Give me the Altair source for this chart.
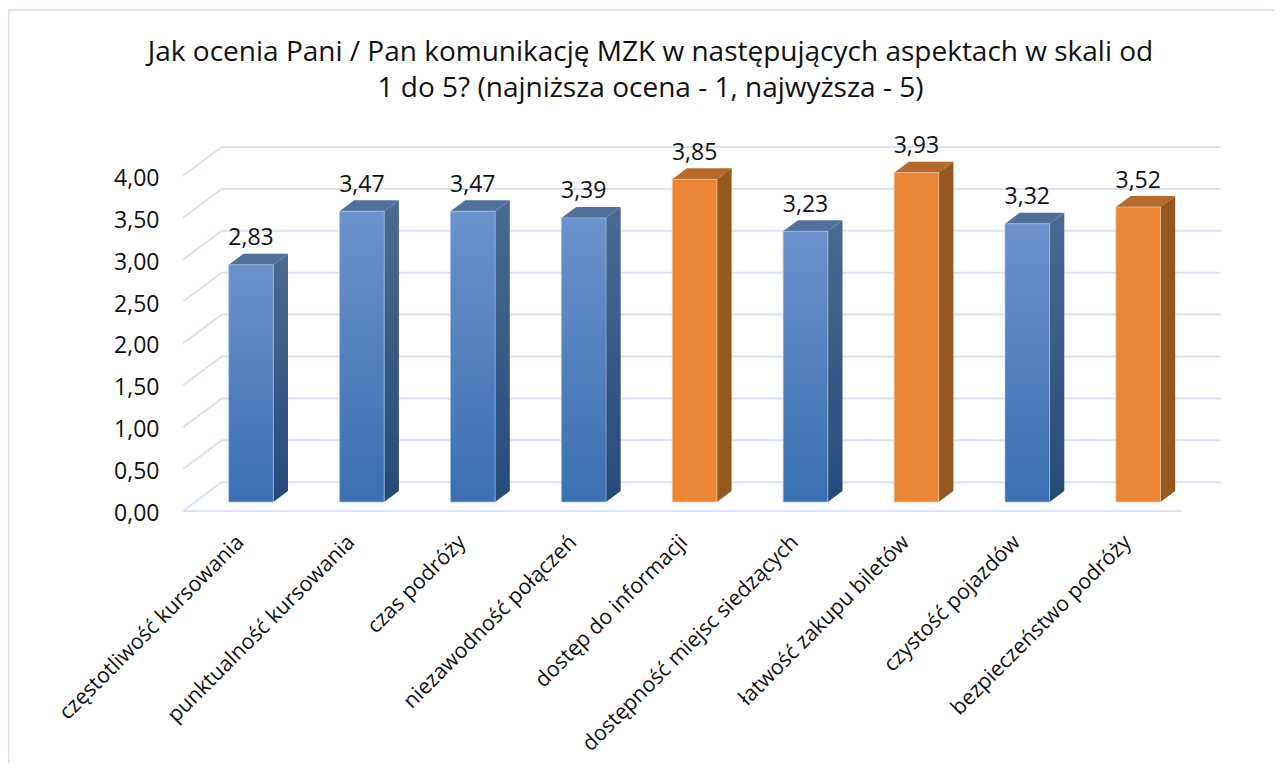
import json
import altair as alt
import pandas as pd

categories = ["częstotliwość kursowania", "punktualność kursowania", "czas podróży",
              "niezawodność połączeń", "dostęp do informacji", "dostępność miejsc siedzących",
              "łatwość zakupu biletów", "czystość pojazdów", "bezpieczeństwo podróży"]
values = [2.83, 3.47, 3.47, 3.39, 3.85, 3.23, 3.93, 3.32, 3.52]
highlight = [False, False, False, False, True, False, True, False, True]
y_ticks = [0, 0.5, 1, 1.5, 2, 2.5, 3, 3.5, 4]

PX_X = 110.9          # pixels per category
PX_Y = 83.8           # pixels per unit
W, H = 999, 335.2
PL, PT = 175, 167.8
bar_half = 22.3 / PX_X
bar_base = 9 / PX_Y            # bar plane is set back from the front of the floor
bar_dx, bar_dy = 14.7 / PX_X, 11 / PX_Y
wall_dx, wall_dy = 38.7 / PX_X, 28.8 / PX_Y
x_dom = [-68 / PX_X, -68 / PX_X + W / PX_X]

front, side, top, labels = [], [], [], []
for i, (c, v, h) in enumerate(zip(categories, values, highlight)):
    l, r = i - bar_half, i + bar_half
    b, t = bar_base, bar_base + v
    front.append(dict(i=i, h=h, x=l, x2=r, y=b, y2=t))
    side += [dict(i=i, h=h, x=r, y=b, y2=t), dict(i=i, h=h, x=r + bar_dx, y=b + bar_dy, y2=t + bar_dy)]
    top += [dict(i=i, h=h, x=l, y=t, y2=t), dict(i=i, h=h, x=l + bar_dx, y=t, y2=t + bar_dy),
            dict(i=i, h=h, x=r, y=t, y2=t + bar_dy), dict(i=i, h=h, x=r + bar_dx, y=t + bar_dy, y2=t + bar_dy)]
    labels.append(dict(x=i, y=t + bar_dy, t=f"{v:.2f}".replace(".", ",")))
front, side, top, labels = map(pd.DataFrame, (front, side, top, labels))

grid = []
for k, v in enumerate(y_ticks):
    grid += [dict(g=f"w{k}", x=x_dom[0], y=v), dict(g=f"w{k}", x=x_dom[0] + wall_dx, y=v + wall_dy),
             dict(g=f"w{k}", x=x_dom[1] + wall_dx, y=v + wall_dy)]
grid += [dict(g="floor", x=x_dom[0], y=0), dict(g="floor", x=x_dom[1], y=0)]
grid = pd.DataFrame(grid)

xs = alt.Scale(domain=x_dom, nice=False, zero=False)
ys = alt.Scale(domain=[0, 4], nice=False, zero=False)
X = alt.X("x:Q", scale=xs, title=None, axis=alt.Axis(
    values=list(range(9)), labelExpr=f"{json.dumps(categories, ensure_ascii=False)}[datum.value]",
    labelAngle=-45, labelFont="Open Sans", labelFontSize=21.3, labelColor="#111111", labelPadding=20,
    labelOffset=-18.5,
    labelOverlap=False, labelBound=False, labelFlush=False, domain=False, ticks=False, grid=False, labelLimit=500))
Y = alt.Y("y:Q", scale=ys, title=None, axis=alt.Axis(
    values=y_ticks, labelExpr="replace(format(datum.value,'.2f'),'.',',')",
    labelFont="Open Sans", labelFontSize=23, labelColor="#111111", labelPadding=24, labelOffset=2.5,
    domain=False, ticks=False, grid=False))


def grad(c1, c2):
    return alt.Gradient(gradient="linear", x1=0, x2=0, y1=0, y2=1,
                        stops=[alt.GradientStop(color=c1, offset=0), alt.GradientStop(color=c2, offset=1)])


GRID = "#d9e3f3"
frame = alt.Chart(pd.DataFrame({"a": [0]})).mark_rect(filled=False, stroke=GRID, strokeWidth=2).encode(
    x=alt.value(-PL + 0.5), x2=alt.value(1282 + 40 - PL), y=alt.value(-PT + 2), y2=alt.value(755 + 40 - PT))
grid_l = alt.Chart(grid).mark_line(color=GRID, strokeWidth=2).encode(x=X, y=Y, detail="g:N")


def faces(sel, fc1, fc2, sc1, sc2, tc, edge):
    f = front[front.h == sel]
    s = side[side.h == sel]
    t = top[top.h == sel]
    return [
        alt.Chart(t).mark_area(color=tc, interpolate="linear").encode(x=X, y=Y, y2="y2:Q", detail="i:N"),
        alt.Chart(s).mark_area(color=grad(sc1, sc2), interpolate="linear").encode(x=X, y=Y, y2="y2:Q", detail="i:N"),
        alt.Chart(f).mark_rect(color=grad(fc1, fc2), stroke=edge, strokeWidth=0.7).encode(x=X, x2="x2:Q", y=Y, y2="y2:Q"),
    ]


layers = [frame, grid_l]
layers += faces(False, "#6b92cb", "#3a6fb3", "#4a6a93", "#264a78", "#50709c", "#a8c0e4")
layers += faces(True, "#ed8537", "#ed8537", "#95581f", "#95581f", "#b5692c", "#f5c69e")
layers.append(alt.Chart(labels).mark_text(font="Open Sans", fontSize=23, color="#111111", baseline="bottom", dy=-3.5)
              .encode(x=X, y=Y, text="t:N"))

chart = alt.layer(*layers).resolve_scale(x="shared", y="shared").properties(
    width=W, height=H,
    padding={"left": PL, "top": PT, "right": 1282 - 16 - PL - W, "bottom": 755 - PT - H},
    autosize=alt.AutoSizeParams(type="none"),
    title=alt.TitleParams(
        text=["Jak ocenia Pani / Pan komunikację MZK w następujących aspektach w skali od",
              "1 do 5? (najniższa ocena - 1, najwyższa - 5)"],
        font="Open Sans", fontSize=28, fontWeight="normal", color="#111111", anchor="middle",
        dx=-32, offset=-94, lineHeight=36),
).configure_view(stroke=None)

chart.save("out.html", embed_options={"renderer": "svg", "actions": False})
